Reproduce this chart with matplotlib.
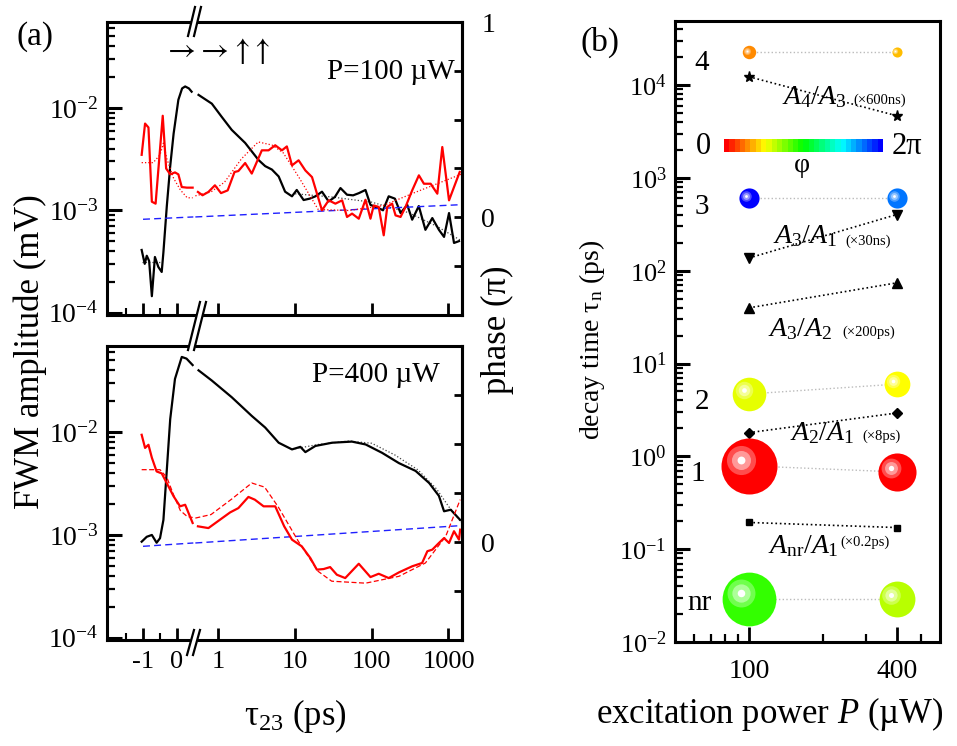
import numpy as np
import matplotlib
matplotlib.use('Agg')
import matplotlib.pyplot as plt
import matplotlib.colors as mcolors
from matplotlib.lines import Line2D
from matplotlib.transforms import ScaledTranslation
from matplotlib.ticker import FixedLocator, LogLocator, NullFormatter, NullLocator, FixedFormatter

plt.rcParams['font.family'] = ['Liberation Serif', 'DejaVu Serif']
plt.rcParams['mathtext.fontset'] = 'custom'
plt.rcParams['mathtext.rm'] = 'Liberation Serif'
plt.rcParams['mathtext.it'] = 'Liberation Serif:italic'
plt.rcParams['mathtext.bf'] = 'Liberation Serif:bold'

W, H, DPI = 957, 746, 100

# ---------------- data, panel (a) P=100 uW ----------------
t100_amp = [-1.04, -0.95, -0.89, -0.82, -0.74, -0.65, -0.55, -0.45, -0.4, -0.3, -0.2, -0.1,
            0.04, 0.15, 0.24, 0.35, 0.43,
            0.55, 0.82, 1.1, 1.49, 2.23, 3.33, 4.07, 4.98, 6.1, 7.4, 9.1, 10.5, 12.9, 15.5,
            18.4, 22.4, 27.4, 33, 39, 47.5, 57, 67.6, 82.7, 96, 123, 140, 166, 200, 237,
            290, 336, 410, 500, 615, 750, 875, 1016, 1180, 1370]
a100_amp = [4.1e-4, 3.0e-4, 3.6e-4, 3.2e-4, 1.45e-4, 3.5e-4, 2.8e-4, 2.5e-4, 3.9e-4, 1.1e-3,
            2.7e-3, 5.6e-3, 1.2e-2, 1.55e-2, 1.62e-2, 1.55e-2, 1.44e-2,
            1.34e-2, 1.1e-2, 8.2e-3, 6.1e-3, 4.55e-3, 3.1e-3, 2.7e-3, 2.5e-3, 2.14e-3,
            1.52e-3, 1.37e-3, 1.58e-3, 1.26e-3, 1.3e-3, 1.37e-3, 1.52e-3, 1.22e-3, 1.35e-3,
            1.65e-3, 1.42e-3, 1.4e-3, 1.47e-3, 1.58e-3, 1.13e-3, 1.05e-3, 1.0e-3, 1.37e-3,
            1.3e-3, 9.4e-4, 1.13e-3, 8.1e-4, 1.1e-3, 6.45e-4, 8.4e-4, 6.45e-4, 5.5e-4,
            9.4e-4, 4.8e-4, 5.0e-4]
t100_fit = [-1.04, -0.45, 10, 30, 100, 300, 700, 1500]
a100_fit = [3.1e-4, 3.1e-4, 1.45e-3, 1.35e-3, 1.2e-3, 9.5e-4, 7e-4, 5e-4]

t100_ph = [-1.04, -0.94, -0.84, -0.74, -0.63, -0.42, -0.32, -0.2, -0.06, 0.04, 0.14, 0.29, 0.46,
           0.54, 0.62, 0.74, 0.9, 1.08, 1.32, 1.62, 1.82, 2.23, 2.72, 3.68, 4.5, 5.5, 6.73,
           7.8, 9.1, 11.1, 13.6, 16.6, 22.4, 27.4, 33.5, 41, 47.5, 55.3, 67.6, 82.7, 96,
           106, 123, 143, 159, 184, 204, 237, 275, 336, 411, 478, 585, 715, 830, 1016,
           1180, 1400]
p100_ph = [0.32, 0.48, 0.46, 0.08, 0.07, 0.52, 0.25, 0.22, 0.23, 0.22, 0.155, 0.152, 0.152,
           0.13, 0.113, 0.13, 0.164, 0.124, 0.138, 0.232, 0.237, 0.278, 0.224, 0.343, 0.343,
           0.369, 0.343, 0.363, 0.266, 0.292, 0.24, 0.206, 0.036, 0.087, 0.07, 0.087, 0.002,
           0.019, -0.007, 0.09, -0.007, 0.061, 0.053, -0.092, 0.053, 0.07, 0.01, 0.002,
           0.053, 0.138, 0.215, 0.172, 0.172, 0.121, 0.36, 0.087, 0.155, 0.232]
t100_phfit = [-1.04, -0.7, -0.5, -0.4, -0.3, -0.1, 0.1, 0.3, 0.46,
              0.5, 0.8, 1.2, 2, 3.3, 5, 7, 11, 20, 50, 140, 380, 800, 1450]
p100_phfit = [0.28, 0.28, 0.32, 0.38, 0.3, 0.2, 0.14, 0.1, 0.1,
              0.11, 0.13, 0.18, 0.3, 0.386, 0.37, 0.33, 0.21, 0.04, 0.035, 0.06, 0.13, 0.18, 0.22]
t100_ref = [-1.0, 0.5, 0.48, 1500]
p100_ref = [-0.01, 0.002, 0.002, 0.065]

# ---------------- data, panel (a) P=400 uW ----------------
t400_amp = [-1.04, -0.89, -0.74, -0.6, -0.5, -0.4, -0.3, -0.2, -0.06, 0.14, 0.28, 0.46,
            0.55, 0.82, 1.49, 2.72, 4.07, 6.1, 9.1, 11.7, 13.6, 18.4, 30.4, 55, 83, 136,
            226, 372, 560, 750, 875, 1070, 1420]
a400_amp = [8.6e-4, 9.6e-4, 1.0e-3, 8.4e-4, 9.3e-4, 1.4e-3, 4.3e-3, 1.34e-2, 3.3e-2, 5.4e-2,
            5.2e-2, 4.5e-2,
            4.0e-2, 3.18e-2, 2.19e-2, 1.44e-2, 1.11e-2, 7.9e-3, 6.8e-3, 7.2e-3, 6.4e-3,
            7.35e-3, 7.9e-3, 8.1e-3, 7.6e-3, 6.3e-3, 5.0e-3, 4.2e-3, 3.2e-3, 2.4e-3,
            1.7e-3, 1.76e-3, 1.4e-3]
t400_fit = [10, 20, 50, 100, 200, 400, 700, 1000, 1500]
a400_fit = [6.9e-3, 7.6e-3, 8.2e-3, 7.8e-3, 6.0e-3, 4.3e-3, 2.8e-3, 1.9e-3, 1.3e-3]

t400_ph = [-1.04, -0.94, -0.84, -0.74, -0.6, -0.45, -0.3, -0.1, 0.09, 0.24, 0.46,
           0.54, 0.74, 1.05, 1.42, 1.82, 2.46, 2.98, 3.88, 5.5, 7.2, 9.1, 12.2, 15.8, 19.2,
           23.5, 28.6, 35, 45, 67.6, 96, 123, 166, 226, 336, 453, 530, 615, 750, 875,
           1016, 1180, 1370, 1420]
p400_ph = [0.547, 0.48, 0.496, 0.43, 0.36, 0.35, 0.30, 0.233, 0.182, 0.19, 0.097,
           0.08, 0.071, 0.114, 0.151, 0.173, 0.23, 0.216, 0.182, 0.182, 0.08, 0.012, -0.022,
           -0.082, -0.141, -0.138, -0.128, -0.167, -0.184, -0.111, -0.179, -0.162, -0.184,
           -0.155, -0.124, -0.107, -0.047, -0.039, -0.005, 0.02, -0.005, 0.055, 0.012, 0.063]
t400_phfit = [-1.04, -0.5, -0.3, -0.1, 0.1, 0.3, 0.46,
              0.5, 0.8, 1.5, 2.72, 4, 6, 11, 20, 30, 83, 226, 500, 920, 1420]
p400_phfit = [0.369, 0.369, 0.33, 0.24, 0.16, 0.13, 0.125,
              0.122, 0.14, 0.22, 0.301, 0.28, 0.18, 0.004, -0.15, -0.2, -0.21, -0.175,
              -0.107, 0.029, 0.216]
t400_ref = [-1.0, 0.5, 0.48, 1500]
p400_ref = [-0.022, -0.005, -0.005, 0.084]

# ---------------- data, panel (b) ----------------
power = [100, 400]
levels = ['4', '3', '2', '1', 'nr']
tau_100 = [2.27e4, 610, 4.7, 0.79, 0.029]
tau_400 = [2.27e4, 610, 6.0, 0.68, 0.029]
amp_100 = [0.24, 0.36, 0.6, 1.0, 0.96]       # relative ball size
amp_400 = [0.18, 0.36, 0.46, 0.68, 0.64]
phi_100 = [0.27, 2.0, 0.55, 0.0, 0.9]        # phase in units of pi
phi_400 = [0.37, 1.77, 0.5, 0.0, 0.64]

ratio_names = [r'$A_4/A_3$', r'$A_3/A_1$', r'$A_3/A_2$', r'$A_2/A_1$', r'$A_\mathrm{nr}/A_1$']
ratio_units = ['(×600ns)', '(×30ns)', '(×200ps)', '(×8ps)', '(×0.2ps)']
ratio_100 = [1.23e4, 137, 39.8, 1.8, 0.194]
ratio_400 = [4.67e3, 403, 74, 2.93, 0.171]
ratio_marker = ['*', 'v', '^', 'D', 's']


def phase_color(phi):
    # 0 -> red, 2 pi -> blue
    return mcolors.hsv_to_rgb([phi / 2.0 * 240 / 360, 1.0, 1.0])


fig = plt.figure(figsize=(W / DPI, H / DPI), dpi=DPI)


def fx(px):
    return px / W


def fy(py):
    return 1 - py / H


def ftext(xp, yp, s, **kw):
    fig.text(fx(xp), fy(yp), s, **kw)


def split(t, v, lo):
    t = np.asarray(t, float)
    v = np.asarray(v, float)
    m = t < lo
    return (t[m], v[m]), (t[~m], v[~m])


def left_panel(ytop, ybot, show_x, show_one):
    b = fy(ybot)
    h = (ybot - ytop) / H
    ax_l = fig.add_axes([fx(107), b, fx(87), h])
    ax_r = fig.add_axes([fx(194), b, fx(268), h])
    ph_l = ax_l.twinx()
    ph_r = ax_r.twinx()
    for ax in (ax_l, ax_r):
        ax.set_yscale('log')
        ax.set_ylim(9.5e-5, 0.069)
        for s in ax.spines.values():
            s.set_linewidth(2.2)
        ax.tick_params(which='both', direction='in', top=False, right=False)
    ax_l.spines['right'].set_visible(False)
    ax_r.spines['left'].set_visible(False)
    ax_l.set_xlim(-2.06, 0.5)
    ax_r.set_xscale('log')
    ax_r.set_xlim(0.48, 1500)
    ax_l.xaxis.set_major_locator(FixedLocator([-1, 0]))
    ax_l.xaxis.set_minor_locator(FixedLocator([-1.5, -0.5]))
    ax_r.xaxis.set_major_locator(FixedLocator([1, 10, 100, 1000]))
    ax_r.xaxis.set_minor_locator(LogLocator(base=10, subs=np.arange(2, 10)))
    ax_r.xaxis.set_minor_formatter(NullFormatter())
    ax_l.yaxis.set_major_locator(FixedLocator([1e-4, 1e-3, 1e-2]))
    ax_l.yaxis.set_major_formatter(FixedFormatter([r'$10^{-4}$', r'$10^{-3}$', r'$10^{-2}$']))
    ax_l.yaxis.set_minor_locator(LogLocator(base=10, subs=np.arange(2, 10)))
    ax_l.yaxis.set_minor_formatter(NullFormatter())
    ax_r.tick_params(axis='y', which='both', left=False, right=False, labelleft=False)
    for ax in (ax_l, ax_r):
        ax.tick_params(axis='x', which='major', length=9, width=2, labelsize=19, pad=8)
        ax.tick_params(axis='x', which='minor', length=5, width=1.5)
    ax_l.tick_params(axis='y', which='major', length=11, width=2.2, labelsize=20, pad=6)
    ax_l.tick_params(axis='y', which='minor', length=6, width=1.6)
    if show_x:
        ax_l.set_xticklabels(['-1', '0'])
        ax_r.set_xticklabels(['1', '10', '100', '1000'])
    else:
        ax_l.tick_params(axis='x', labelbottom=False)
        ax_r.tick_params(axis='x', labelbottom=False)

    for ph in (ph_l, ph_r):
        ph.set_ylim(-0.5, 1.0)
        for s in ph.spines.values():
            s.set_visible(False)
    ph_l.tick_params(axis='y', which='both', left=False, right=False, labelright=False)
    ph_r.spines['right'].set_visible(True)
    ph_r.spines['right'].set_linewidth(2.2)
    ph_r.yaxis.set_major_locator(FixedLocator(np.arange(-0.5, 1.01, 0.25)))
    labs = ['' for _ in range(7)]
    labs[2] = '0'
    if show_one:
        labs[6] = '1'
    ph_r.yaxis.set_major_formatter(FixedFormatter(labs))
    ph_r.yaxis.set_minor_locator(NullLocator())
    ph_r.tick_params(axis='y', direction='in', left=False, length=6, width=2, labelsize=20,
                     pad=14)
    return ax_l, ax_r, ph_l, ph_r


def draw_data(axes, t_amp, a_amp, t_fit, a_fit, t_ph, p_ph, t_phfit, p_phfit, phfit_ls,
              t_ref, p_ref):
    ax_l, ax_r, ph_l, ph_r = axes
    lo = 0.47
    for (ta, va), ax in zip(split(t_amp, a_amp, lo), (ax_l, ax_r)):
        ax.plot(ta, va, color='black', lw=1.6, zorder=3)
    for (ta, va), ax in zip(split(t_fit, a_fit, lo), (ax_l, ax_r)):
        ax.plot(ta, va, color='#444444', lw=0.9, ls=':', zorder=2)
    for (ta, va), ax in zip(split(t_ref, p_ref, 0.49), (ph_l, ph_r)):
        ax.plot(ta, va, color='#2020ff', lw=1.0, ls=(0, (5, 3)))
    for (ta, va), ax in zip(split(t_phfit, p_phfit, lo), (ph_l, ph_r)):
        ax.plot(ta, va, color='red', lw=0.9, ls=phfit_ls)
    for (ta, va), ax in zip(split(t_ph, p_ph, lo), (ph_l, ph_r)):
        ax.plot(ta, va, color='red', lw=1.6)


top = left_panel(22, 315, False, True)
bot = left_panel(346, 640, True, False)
draw_data(top, t100_amp, a100_amp, t100_fit, a100_fit, t100_ph, p100_ph,
          t100_phfit, p100_phfit, ':', t100_ref, p100_ref)
draw_data(bot, t400_amp, a400_amp, t400_fit, a400_fit, t400_ph, p400_ph,
          t400_phfit, p400_phfit, (0, (4, 2)), t400_ref, p400_ref)


# axis break marks
def break_mark(x0, y0, x1, y1):
    # (x0, y0) lower end, (x1, y1) upper end, in image pixels
    for d, c, lw in ((0, 'white', 5), (-3, 'black', 1.6), (3, 'black', 1.6)):
        fig.add_artist(Line2D([fx(x0 + d), fx(x1 + d)], [fy(y0), fy(y1)],
                              color=c, lw=lw, transform=fig.transFigure, zorder=10))


break_mark(191, 36, 198, 7)
break_mark(191, 350, 203, 302)
break_mark(190, 655, 197, 630)

ftext(35, 37, '(a)', fontsize=24, ha='center', va='center')
ftext(217, 51, r'$\rightarrow\!\rightarrow\!\uparrow\!\uparrow$', fontsize=22,
      ha='center', va='center', math_fontfamily='stix')
ftext(455, 72, 'P=100 µW', fontsize=21, ha='right', va='center')
ftext(440, 375, 'P=400 µW', fontsize=21, ha='right', va='center')
ftext(30, 352, 'FWM amplitude (mV)', fontsize=25, rotation=90, ha='center', va='center')
ftext(497, 330, 'phase (π)', fontsize=25, rotation=90, ha='center', va='center')
ftext(295, 716, r'$\mathrm{\tau}_{23}$ (ps)', fontsize=25, ha='center', va='center')

# ---------------- panel (b) ----------------
axb = fig.add_axes([fx(675), fy(642), fx(940 - 675), (642 - 21) / H])
axb.set_xscale('log')
axb.set_yscale('log')
axb.set_xlim(50, 600)
axb.set_ylim(1e-2, 4.9e4)
for s in axb.spines.values():
    s.set_linewidth(2.2)
axb.xaxis.set_major_locator(FixedLocator([100, 400]))
axb.xaxis.set_major_formatter(FixedFormatter(['100', '400']))
axb.xaxis.set_minor_locator(FixedLocator([60, 70, 80, 90, 200, 300, 500]))
axb.xaxis.set_minor_formatter(NullFormatter())
decs = [1e-2, 1e-1, 1, 10, 100, 1e3, 1e4]
axb.yaxis.set_major_locator(FixedLocator(decs))
axb.yaxis.set_major_formatter(FixedFormatter([r'$10^{%d}$' % e for e in range(-2, 5)]))
axb.yaxis.set_minor_locator(LogLocator(base=10, subs=np.arange(2, 10)))
axb.yaxis.set_minor_formatter(NullFormatter())
axb.tick_params(which='both', direction='in', top=False, right=False)
axb.tick_params(axis='y', which='major', length=11, width=2.2, labelsize=19, pad=6)
axb.tick_params(axis='y', which='minor', length=6, width=1.6)
axb.tick_params(axis='x', which='major', length=11, width=2, labelsize=20, pad=12)
axb.tick_params(axis='x', which='minor', length=6, width=1.6)


def ball(ax, x, y, r, c):
    ms = 2 * r * 72 / DPI
    ax.plot([x], [y], 'o', ms=ms, mfc=c, mec='none', zorder=4)
    off = ScaledTranslation(-0.3 * r / DPI, 0.22 * r / DPI, fig.dpi_scale_trans)
    c = np.asarray(c)
    for frac, w in ((0.52, 0.3), (0.34, 0.6), (0.14, 1.0)):
        cc = c * (1 - w) + w
        ax.plot([x], [y], 'o', ms=ms * frac, mfc=cc, mec='none', zorder=5,
                transform=ax.transData + off)


for i in range(len(levels)):
    axb.plot(power, [tau_100[i], tau_400[i]], ls=':', color='#bbbbbb', lw=1.0, zorder=2)
    ball(axb, power[0], tau_100[i], 28 * amp_100[i], phase_color(phi_100[i]))
    ball(axb, power[1], tau_400[i], 28 * amp_400[i], phase_color(phi_400[i]))

marker_size = {'*': 8, 'v': 6.5, '^': 6.5, 'D': 5.5, 's': 5}
for i in range(len(ratio_names)):
    axb.plot(power, [ratio_100[i], ratio_400[i]], ls=':', color='black', lw=1.2,
             marker=ratio_marker[i], ms=marker_size[ratio_marker[i]], mfc='black',
             mec='black', zorder=3)

level_pos = [(702, 63), (702, 207), (702, 402), (698, 474), (699, 603)]
for lab, (xp, yp) in zip(levels, level_pos):
    ftext(xp, yp, lab, fontsize=21, ha='center', va='center')

name_pos = [(782, 97), (773, 236), (768, 329), (790, 433), (768, 546)]
unit_pos = [(853, 100), (845, 241), (842, 332), (862, 436), (840, 542)]
for nm, un, (xn, yn), (xu, yu) in zip(ratio_names, ratio_units, name_pos, unit_pos):
    ftext(xn, yn, nm, fontsize=20, ha='left', va='center')
    ftext(xu, yu, un, fontsize=10.5, ha='left', va='center')

# phase colour scale
cax = fig.add_axes([fx(724), fy(152), fx(883 - 724), 13 / H])
n = 30
cols = [phase_color(2.0 * k / (n - 1)) for k in range(n)]
cax.imshow(np.arange(n)[None, :], cmap=mcolors.ListedColormap(cols), aspect='auto',
           interpolation='nearest')
cax.set_axis_off()
ftext(711, 147, '0', fontsize=22, ha='right', va='center')
ftext(892, 147, '2π', fontsize=22, ha='left', va='center')
ftext(802, 166, 'φ', fontsize=20, ha='center', va='center')

ftext(600, 42, '(b)', fontsize=24, ha='center', va='center')
ftext(592, 340, r'decay time $\mathrm{\tau}_\mathrm{n}$ (ps)', fontsize=20, rotation=90,
      ha='center', va='center')
ftext(770, 714, r'excitation power $P$ (µW)', fontsize=25, ha='center', va='center')

fig.savefig('out.png', dpi=DPI)
